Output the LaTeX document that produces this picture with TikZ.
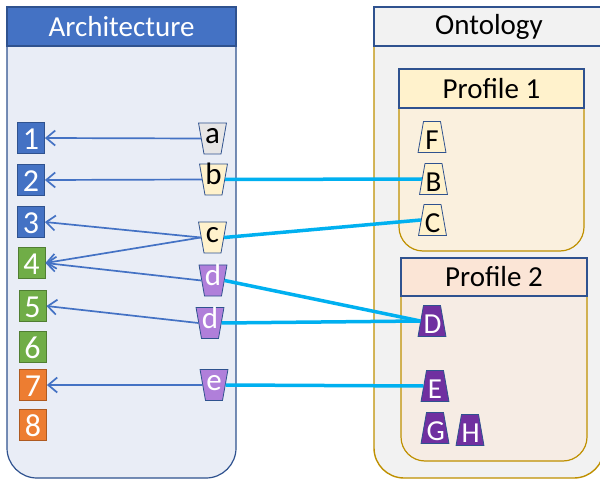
\documentclass[tikz,border=0pt]{standalone}
\usepackage{fontspec}
\setmainfont{Carlito}
\usetikzlibrary{shapes.geometric, arrows.meta, positioning}

\definecolor{viewblue}{HTML}{4472C4}
\definecolor{viewblueline}{HTML}{2F528F}
\definecolor{viewgreen}{HTML}{70AD47}
\definecolor{viewgreenline}{HTML}{507E32}
\definecolor{vieworange}{HTML}{ED7D31}
\definecolor{vieworangeline}{HTML}{AE5A21}
\definecolor{archfill}{HTML}{E9EDF6}
\definecolor{ontofill}{HTML}{F2F2F2}
\definecolor{goldline}{HTML}{BF9000}
\definecolor{pronehead}{HTML}{FFF2CC}
\definecolor{pronefill}{HTML}{FAF0DE}
\definecolor{prtwohead}{HTML}{FBE5D6}
\definecolor{prtwofill}{HTML}{F6ECE4}
\definecolor{eltgray}{HTML}{E7E6E6}
\definecolor{eltyellow}{HTML}{FFF2CC}
\definecolor{eltlilac}{HTML}{B07FDA}
\definecolor{eltpurple}{HTML}{7030A0}
\definecolor{mapcyan}{HTML}{00B0F0}

\begin{document}
\begin{tikzpicture}[
    x=1pt, y=-1pt,
    panelhead/.style={draw=viewblueline, line width=1.2pt, inner sep=0pt, minimum height=39pt, font=\fontsize{29}{34}\selectfont},
    viewbox/.style={draw=#1line, fill=#1, line width=0.8pt, minimum width=27pt, inner sep=0pt, text height=27pt, text depth=4pt, text=white, font=\fontsize{32}{36}\selectfont},
    archelt/.style={trapezium, trapezium angle=80, shape border rotate=180, draw=viewblueline, line width=0.8pt, fill=#1, inner sep=0pt, text width=17pt, align=center, text height=21pt, text depth=10pt, font=\fontsize{31}{34}\selectfont},
    ontoelt/.style={trapezium, trapezium angle=80, draw=viewblueline, line width=0.8pt, fill=#1, inner sep=0pt, text width=17pt, align=center, text height=28pt, text depth=3pt, font=\fontsize{29}{32}\selectfont},
    uses/.style={draw=viewblue, line width=1.7pt, -{Straight Barb[length=9pt, width=15pt]}},
    maps/.style={draw=mapcyan, line width=3.5pt}
]
\useasboundingbox (0,0) rectangle (600,481);
\clip (0,0) rectangle (600,481);
\fill[white] (0,0) rectangle (600,481);

% Architecture panel
\draw[viewblueline, fill=archfill, line width=1.2pt, rounded corners=30pt] (7,46) -- (7,478) -- (236,478) -- (236,46);
\node[panelhead, fill=viewblue, text=white, minimum width=229pt] (archhead) at (121.5,26.5) {Architecture};

% Ontology panel
\draw[goldline, fill=ontofill, line width=1.4pt, rounded corners=30pt] (374,46) -- (374,478) -- (604,478) -- (604,46);
\node[panelhead, fill=ontofill, minimum width=230pt] (ontohead) at (489,26.5) {Ontology};

% Profiles
\draw[goldline, fill=pronefill, line width=1.2pt, rounded corners=24pt] (399,108) -- (399,251) -- (584,251) -- (584,108);
\node[panelhead, fill=pronehead, minimum width=185pt] (pronehead) at (491.5,88.5) {Profile 1};
\draw[goldline, fill=prtwofill, line width=1.2pt, rounded corners=24pt] (401,296) -- (401,461) -- (587,461) -- (587,296);
\node[panelhead, fill=prtwohead, minimum width=186pt, minimum height=38pt] (prtwohead) at (494,277) {Profile 2};

% Views
\node[viewbox=viewblue] (view1) at (31,138) {1};
\node[viewbox=viewblue] (view2) at (31,180) {2};
\node[viewbox=viewblue] (view3) at (31,222) {3};
\node[viewbox=viewgreen] (view4) at (31.5,263) {4};
\node[viewbox=viewgreen] (view5) at (32.5,306) {5};
\node[viewbox=viewgreen] (view6) at (32.5,347) {6};
\node[viewbox=vieworange] (view7) at (33,385) {7};
\node[viewbox=vieworange] (view8) at (33,425) {8};

% Architecture elements
\node[archelt=eltgray] (aelt) at (212.5,138.5) {a};
\node[archelt=eltyellow] (belt) at (213.5,179.5) {b};
\node[archelt=eltyellow] (celt) at (212.5,237.5) {c};
\node[archelt=eltlilac, text=white] (delt) at (213,280.5) {d};
\node[archelt=eltlilac, text=white] (dtwoelt) at (210,323) {d};
\node[archelt=eltlilac, text=white] (eelt) at (214,385) {e};

% Ontology elements
\node[ontoelt=eltyellow] (Fonto) at (432,137) {F};
\node[ontoelt=eltyellow] (Bonto) at (433.5,179) {B};
\node[ontoelt=eltyellow] (Conto) at (432.5,220) {C};
\node[ontoelt=eltpurple, text=white] (Donto) at (432,321) {D};
\node[ontoelt=eltpurple, text=white] (Eonto) at (435,386) {E};
\node[ontoelt=eltpurple, text=white] (Gonto) at (435,428) {G};
\node[ontoelt=eltpurple, text=white] (Honto) at (470,430) {H};

% Arrows
\draw[uses] (aelt.west) -- (view1.east);
\draw[uses] (belt.west) -- (view2.east);
\draw[uses] (celt.west) -- (view3.east);
\draw[uses] (celt.west) -- (view4.east);
\draw[uses] (delt.west) -- (view4.east);
\draw[uses] (dtwoelt.west) -- (view5.east);
\draw[uses] (eelt.west) -- (view7.east);

% Mappings
\draw[maps] (belt.east) -- (Bonto.west);
\draw[maps] (celt.east) -- (Conto.west);
\draw[maps] (delt.east) -- (Donto.west);
\draw[maps] (dtwoelt.east) -- (Donto.west);
\draw[maps] (eelt.east) -- (Eonto.west);

\end{tikzpicture}
\end{document}
